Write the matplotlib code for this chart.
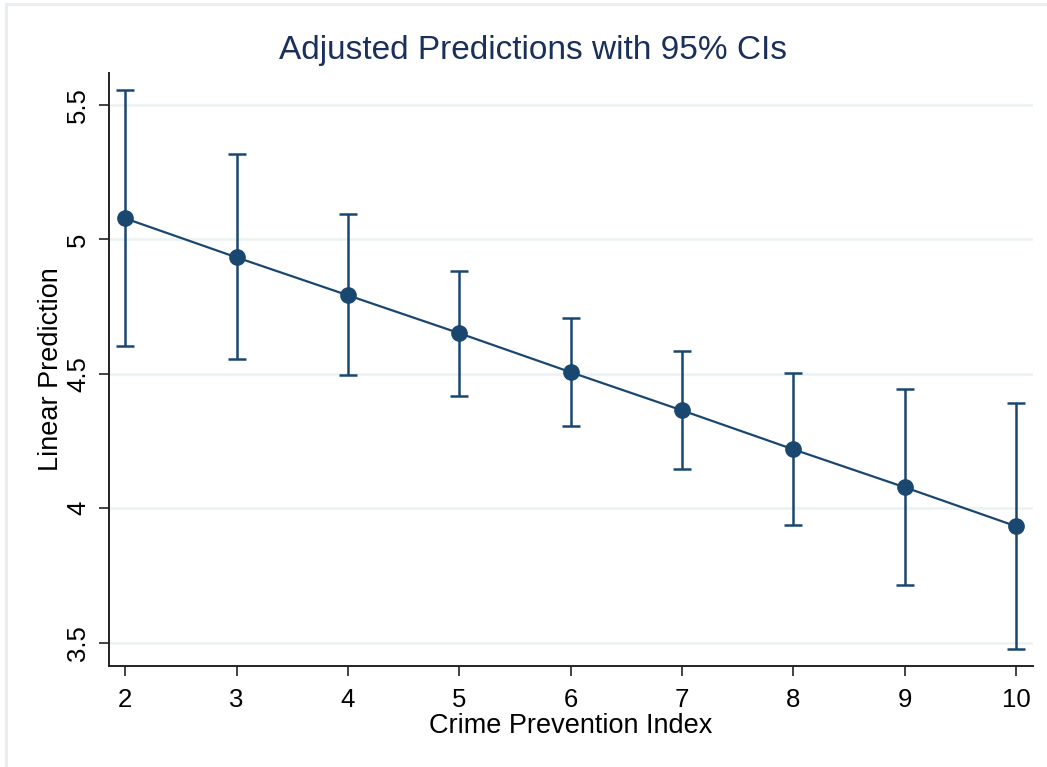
import numpy as np
import matplotlib.pyplot as plt
from matplotlib.patches import Rectangle

plt.rcParams['font.family'] = ['Liberation Sans', 'DejaVu Sans']

crime_index = [2, 3, 4, 5, 6, 7, 8, 9, 10]
prediction = [5.078, 4.933, 4.792, 4.651, 4.506, 4.364, 4.219, 4.078, 3.933]
ci_lower = [4.602, 4.554, 4.494, 4.416, 4.305, 4.145, 3.937, 3.714, 3.476]
ci_upper = [5.554, 5.316, 5.093, 4.881, 4.706, 4.584, 4.502, 4.442, 4.390]
y_ticks = [3.5, 4, 4.5, 5, 5.5]
y_tick_labels = ['3.5', '4', '4.5', '5', '5.5']

navy = '#1a476f'

fig = plt.figure(figsize=(10.47, 7.67), dpi=100)
# light outer frame like the Stata graph region
fig.patches.append(Rectangle((6 / 1047, -0.05), 1.2, 1.05 - 4 / 767, transform=fig.transFigure,
                             fill=False, edgecolor='#e8eef2', linewidth=2.2))

ax = fig.add_axes([0.1041, 0.1317, 0.8825, 0.7731])

pred = np.array(prediction)
yerr = [pred - np.array(ci_lower), np.array(ci_upper) - pred]
ax.errorbar(crime_index, prediction, yerr=yerr, fmt='none', ecolor=navy,
            elinewidth=1.8, capsize=6.5, capthick=1.8, zorder=2)
ax.plot(crime_index, prediction, color=navy, linewidth=1.6, marker='o',
        markersize=11, markerfacecolor=navy, markeredgecolor=navy, zorder=3)

ax.set_xlim(1.853, 10.153)
ax.set_ylim(3.413, 5.619)
ax.set_xticks(crime_index)
ax.set_yticks(y_ticks)
ax.set_yticklabels(y_tick_labels, rotation=90, va='center')
ax.tick_params(axis='both', labelsize=18.5, length=7.5, width=1.2, color='#222222')
ax.tick_params(axis='x', pad=8)
ax.tick_params(axis='y', pad=6)
ax.grid(axis='y', color='#eaf2f3', linewidth=1.8)
ax.set_axisbelow(True)

for side in ['top', 'right']:
    ax.spines[side].set_visible(False)
for side in ['left', 'bottom']:
    ax.spines[side].set_linewidth(1.4)
    ax.spines[side].set_color('#222222')

ax.set_xlabel('Crime Prevention Index', fontsize=19.5, labelpad=1)
ax.set_ylabel('Linear Prediction', fontsize=19.5, labelpad=1.5)
fig.text(0.509, 0.934, 'Adjusted Predictions with 95% CIs', ha='center', va='center',
         fontsize=24, color='#1a2f5a')

fig.savefig('out.png', dpi=100, facecolor='white')
